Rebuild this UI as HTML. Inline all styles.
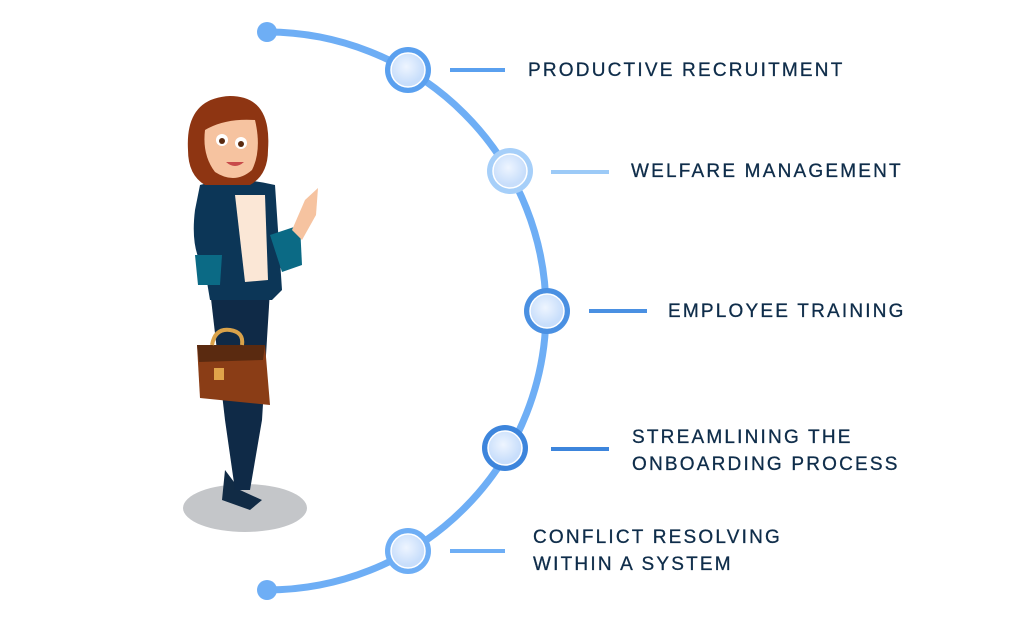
<!DOCTYPE html>
<html><head><style>
body{margin:0;background:#fff;width:1024px;height:625px;overflow:hidden;font-family:"Liberation Sans",sans-serif}
svg{position:absolute;left:0;top:0}
.t{position:absolute;color:#0f2d4a;font-size:19px;letter-spacing:2.2px;line-height:27px;white-space:nowrap;-webkit-text-stroke:0.3px #0f2d4a}
</style></head><body>
<svg width="1024" height="625">
<defs>
<radialGradient id="g" cx="45%" cy="40%"><stop offset="0" stop-color="#eef5ff"/><stop offset="1" stop-color="#c8defb"/></radialGradient>
</defs>
<path d="M267 32 A279 279 0 0 1 267 590" fill="none" stroke="#6eaef5" stroke-width="7"/>
<circle cx="267" cy="32" r="10" fill="#6eaef5"/>
<circle cx="267" cy="590" r="10" fill="#6eaef5"/>
<g stroke-width="4">
<line x1="450" y1="70" x2="505" y2="70" stroke="#5aa0ef"/>
<line x1="551" y1="172" x2="609" y2="172" stroke="#9ccaf7"/>
<line x1="589" y1="311" x2="647" y2="311" stroke="#4a90e2"/>
<line x1="551" y1="449" x2="609" y2="449" stroke="#3d85dc"/>
<line x1="450" y1="551" x2="505" y2="551" stroke="#6eaef5"/>
</g>
<g>
<circle cx="408" cy="70" r="23" fill="#5aa0ef"/><circle cx="408" cy="70" r="17" fill="url(#g)" stroke="#fff" stroke-width="1.5"/>
<circle cx="510" cy="171" r="23" fill="#a6cff9"/><circle cx="510" cy="171" r="17" fill="url(#g)" stroke="#fff" stroke-width="1.5"/>
<circle cx="547" cy="311" r="23" fill="#4a90e2"/><circle cx="547" cy="311" r="17" fill="url(#g)" stroke="#fff" stroke-width="1.5"/>
<circle cx="505" cy="448" r="23" fill="#3d85dc"/><circle cx="505" cy="448" r="17" fill="url(#g)" stroke="#fff" stroke-width="1.5"/>
<circle cx="408" cy="551" r="23" fill="#6eaef5"/><circle cx="408" cy="551" r="17" fill="url(#g)" stroke="#fff" stroke-width="1.5"/>
</g>
<!-- woman -->
<ellipse cx="245" cy="508" rx="62" ry="24" fill="#c4c6c9"/>
<path d="M225 470 L222 500 L250 510 L262 500 L240 490 Z" fill="#112b45"/>
<path d="M210 290 L270 290 L262 420 L250 490 L235 490 L225 420 Z" fill="#0f2a47"/>
<path d="M200 185 Q235 175 275 185 L282 290 L272 300 L210 300 L205 270 Q190 250 195 210 Z" fill="#0c3657"/>
<path d="M235 195 L265 195 L268 280 L245 282 Z" fill="#fbe7d6"/>
<path d="M195 255 L222 255 L220 285 L198 285 Z" fill="#0b6a85"/>
<path d="M270 235 L300 225 L302 265 L282 272 Z" fill="#0b6a85"/>
<path d="M292 230 L305 200 L318 188 L316 215 L302 240 Z" fill="#f6c3a0"/>
<path d="M197 345 L265 345 L270 405 L200 398 Z" fill="#8a3d16"/>
<path d="M197 345 L265 345 L263 360 L199 362 Z" fill="#5a2a10"/>
<path d="M212 345 Q215 328 230 330 Q244 332 242 345" fill="none" stroke="#d9a24a" stroke-width="4"/>
<rect x="214" y="368" width="10" height="12" fill="#e0a44a"/>
<path d="M188 150 Q185 98 230 96 Q272 96 268 150 Q268 175 250 185 L205 185 Q188 175 188 150 Z" fill="#8e3512"/>
<path d="M205 130 Q225 118 255 120 Q262 150 252 170 Q235 185 215 172 Q202 155 205 130 Z" fill="#f6c3a0"/>
<circle cx="222" cy="140" r="6" fill="#fff"/><circle cx="241" cy="143" r="6" fill="#fff"/>
<circle cx="222" cy="141" r="3" fill="#5a2a10"/><circle cx="241" cy="144" r="3" fill="#5a2a10"/>
<path d="M226 162 Q235 170 244 162" fill="#c84a4a"/>
</svg>
<div class="t" style="left:528px;top:57px">PRODUCTIVE RECRUITMENT</div>
<div class="t" style="left:631px;top:158px">WELFARE MANAGEMENT</div>
<div class="t" style="left:668px;top:298px">EMPLOYEE TRAINING</div>
<div class="t" style="left:632px;top:424px">STREAMLINING THE<br>ONBOARDING PROCESS</div>
<div class="t" style="left:533px;top:524px">CONFLICT RESOLVING<br>WITHIN A SYSTEM</div>
</body></html>
